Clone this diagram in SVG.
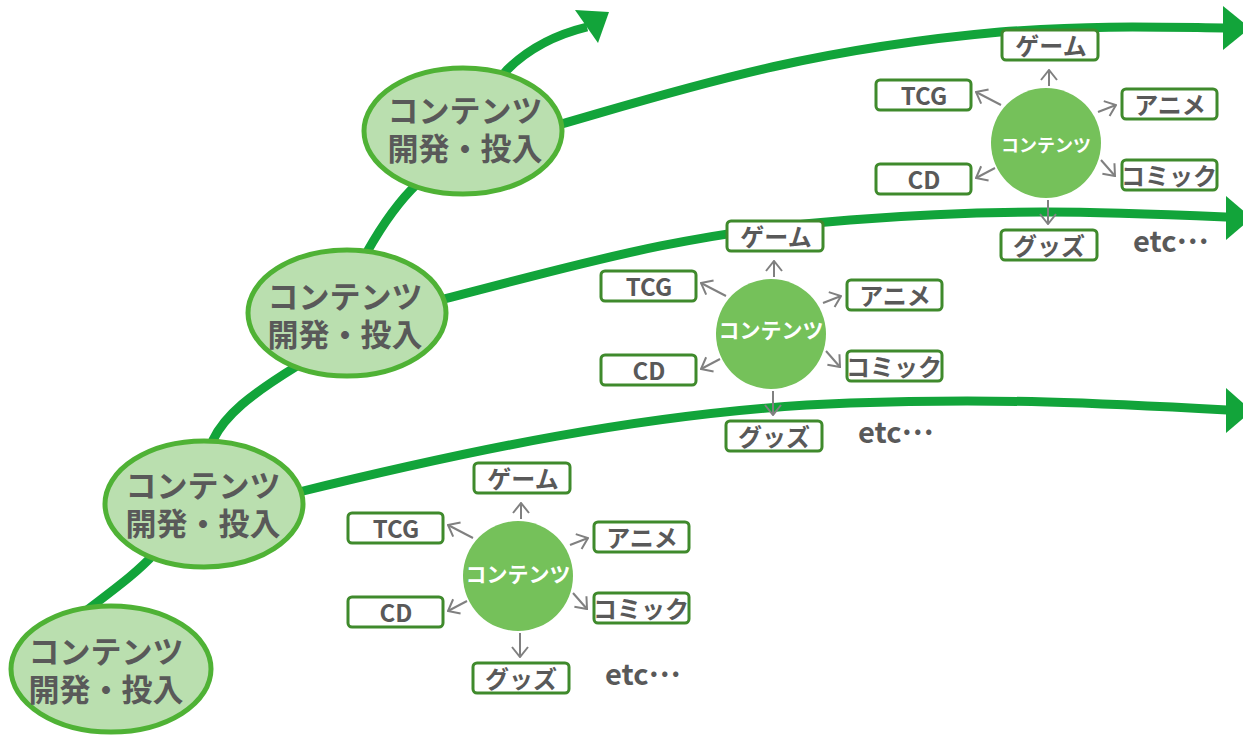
<svg xmlns="http://www.w3.org/2000/svg" width="1243" height="735" viewBox="0 0 1243 735">
<defs>
<style>
.flow{fill:none;stroke:#12A43A;stroke-width:9;stroke-linecap:butt;stroke-linejoin:round}
.head{fill:#12A43A}
.stage ellipse{fill:#BADFAF;stroke:#4FB235;stroke-width:5}
.stage text{font-family:"Noto Sans CJK JP","Noto Sans",sans-serif;font-weight:bold;font-size:31px;fill:#595959;text-anchor:middle}
.hub circle{fill:#75C15A}
.hub text{font-family:"Noto Sans CJK JP","Noto Sans",sans-serif;font-weight:bold;font-size:21px;fill:#FFFFFF;text-anchor:middle}
.box rect{fill:#FFFFFF;stroke:#3F8A2C;stroke-width:3}
.box text{font-family:"Noto Sans CJK JP","Noto Sans",sans-serif;font-weight:bold;font-size:24px;fill:#595959;text-anchor:middle}
.etc{font-family:"Noto Sans CJK JP","Noto Sans",sans-serif;font-weight:bold;font-size:29px;fill:#595959}
.spoke{fill:none;stroke:#808080;stroke-width:2;marker-end:url(#chev)}
</style>
<marker id="chev" viewBox="0 0 12 18" refX="11" refY="9" markerWidth="12" markerHeight="18" markerUnits="userSpaceOnUse" orient="auto">
<path d="M1,1 L11,9 L1,17" fill="none" stroke="#808080" stroke-width="2"/>
</marker>
</defs>

<g id="connectors">
<path class="flow" d="M78 617 C110 592 135 575 155 553 C180 525 200 470 213 440 C225 415 250 395 297 366 C330 345 348 290 367 252 C385 220 400 200 418 183 C450 150 480 100 507 70 C525 52 550 36 587 27"/>
<polygon class="head" points="575,10 609,12 598,43"/>
<path class="flow" d="M295 493 C450 455 650 410 850 403 C1000 398 1100 403 1227 410"/>
<polygon class="head" points="1226,388 1252,411 1226,433"/>
<path class="flow" d="M440 300 C560 270 680 232 850 220 C1000 208 1100 212 1227 217"/>
<polygon class="head" points="1226,196 1252,218 1226,240"/>
<path class="flow" d="M558 125 C680 90 800 50 1000 32 C1100 25 1150 27 1224 28"/>
<polygon class="head" points="1223,6 1250,28 1223,50"/>
</g>

<g id="stage1" class="stage"><ellipse cx="111" cy="669" rx="100" ry="63"/><text><tspan x="106" y="663">コンテンツ</tspan><tspan x="106" y="701">開発・投入</tspan></text></g>
<g id="stage2" class="stage"><ellipse cx="204" cy="504" rx="99" ry="63"/><text><tspan x="203" y="497">コンテンツ</tspan><tspan x="203" y="535">開発・投入</tspan></text></g>
<g id="stage3" class="stage"><ellipse cx="347" cy="313" rx="99" ry="63"/><text><tspan x="345" y="308">コンテンツ</tspan><tspan x="345" y="346">開発・投入</tspan></text></g>
<g id="stage4" class="stage"><ellipse cx="463" cy="131" rx="99" ry="63"/><text><tspan x="465" y="122">コンテンツ</tspan><tspan x="465" y="160">開発・投入</tspan></text></g>

<g id="cluster1">
<g id="c1-spokes">
<path class="spoke" d="M521 519 L521 503"/>
<path class="spoke" d="M473 538 L448 525"/>
<path class="spoke" d="M570 545 L588 538"/>
<path class="spoke" d="M467 601 L448 611"/>
<path class="spoke" d="M573 593 L587 609"/>
<path class="spoke" d="M520 633 L520 657"/>
</g>
<g id="c1-hub" class="hub"><circle cx="518" cy="576" r="55"/><text x="518" y="582">コンテンツ</text></g>
<g id="c1-game" class="box"><rect x="474" y="463" width="96" height="30" rx="4"/><text x="523" y="488">ゲーム</text></g>
<g id="c1-tcg" class="box"><rect x="348" y="513" width="95" height="30" rx="4"/><text x="396" y="538">TCG</text></g>
<g id="c1-anime" class="box"><rect x="594" y="522" width="95" height="30" rx="4"/><text x="642" y="547">アニメ</text></g>
<g id="c1-cd" class="box"><rect x="348" y="597" width="95" height="30" rx="4"/><text x="396" y="622">CD</text></g>
<g id="c1-comic" class="box"><rect x="594" y="593" width="95" height="30" rx="4"/><text x="641" y="618">コミック</text></g>
<g id="c1-goods" class="box"><rect x="473" y="663" width="96" height="30" rx="4"/><text x="521" y="688">グッズ</text></g>
<text id="c1-etc" class="etc" x="605" y="685">etc<tspan dy="-8">…</tspan></text>
</g>

<g id="cluster2" transform="translate(253,-242)">
<g id="c2-spokes">
<path class="spoke" d="M521 519 L521 503"/>
<path class="spoke" d="M473 538 L448 525"/>
<path class="spoke" d="M570 545 L588 538"/>
<path class="spoke" d="M467 601 L448 611"/>
<path class="spoke" d="M573 593 L587 609"/>
<path class="spoke" d="M520 633 L520 657"/>
</g>
<g id="c2-hub" class="hub"><circle cx="518" cy="576" r="55"/><text x="518" y="580">コンテンツ</text></g>
<g id="c2-game" class="box"><rect x="474" y="463" width="96" height="30" rx="4"/><text x="523" y="488">ゲーム</text></g>
<g id="c2-tcg" class="box"><rect x="348" y="513" width="95" height="30" rx="4"/><text x="396" y="538">TCG</text></g>
<g id="c2-anime" class="box"><rect x="594" y="522" width="95" height="30" rx="4"/><text x="642" y="547">アニメ</text></g>
<g id="c2-cd" class="box"><rect x="348" y="597" width="95" height="30" rx="4"/><text x="396" y="622">CD</text></g>
<g id="c2-comic" class="box"><rect x="594" y="593" width="95" height="30" rx="4"/><text x="641" y="618">コミック</text></g>
<g id="c2-goods" class="box"><rect x="473" y="663" width="96" height="30" rx="4"/><text x="521" y="688">グッズ</text></g>
<text id="c2-etc" class="etc" x="605" y="685">etc<tspan dy="-8">…</tspan></text>
</g>

<g id="cluster3" transform="translate(528,-433)">
<g id="c3-spokes">
<path class="spoke" d="M521 519 L521 503"/>
<path class="spoke" d="M473 538 L448 525"/>
<path class="spoke" d="M570 545 L588 538"/>
<path class="spoke" d="M467 601 L448 611"/>
<path class="spoke" d="M573 593 L587 609"/>
<path class="spoke" d="M520 633 L520 657"/>
</g>
<g id="c3-hub" class="hub"><circle cx="518" cy="576" r="55"/><text x="518" y="585" style="font-size:18px">コンテンツ</text></g>
<g id="c3-game" class="box"><rect x="474" y="463" width="96" height="30" rx="4"/><text x="523" y="488">ゲーム</text></g>
<g id="c3-tcg" class="box"><rect x="348" y="513" width="95" height="30" rx="4"/><text x="396" y="538">TCG</text></g>
<g id="c3-anime" class="box"><rect x="594" y="522" width="95" height="30" rx="4"/><text x="642" y="547">アニメ</text></g>
<g id="c3-cd" class="box"><rect x="348" y="597" width="95" height="30" rx="4"/><text x="396" y="622">CD</text></g>
<g id="c3-comic" class="box"><rect x="594" y="593" width="95" height="30" rx="4"/><text x="641" y="618">コミック</text></g>
<g id="c3-goods" class="box"><rect x="473" y="663" width="96" height="30" rx="4"/><text x="521" y="688">グッズ</text></g>
<text id="c3-etc" class="etc" x="605" y="685">etc<tspan dy="-8">…</tspan></text>
</g>
</svg>
